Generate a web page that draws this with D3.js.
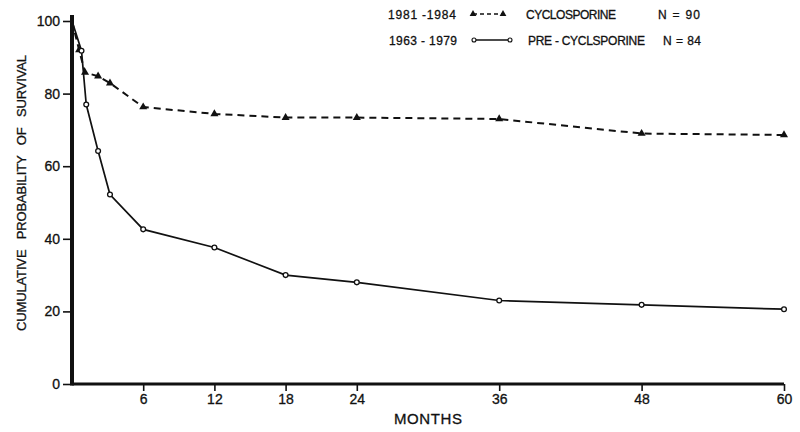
<!DOCTYPE html>
<html>
<head>
<meta charset="utf-8">
<script src="https://cdn.jsdelivr.net/npm/d3@7"></script>
<style>
  body { margin: 0; background: #fff; }
  text { font-family: "Liberation Sans", Arial, sans-serif; fill: #111; stroke: #111; stroke-width: 0.3px; }
</style>
</head>
<body>
<div id="chart"></div>
<script>
// survival data (months, % surviving)
const cycloMonths = [0, 0.6, 1.1, 2.2, 3.2, 6, 12, 18, 24, 36, 48, 60];
const cycloValues = [100, 92, 85.8, 84.8, 82.9, 76.3, 74.4, 73.4, 73.4, 73.0, 69.0, 68.6];
const preMonths = [0, 0.8, 1.2, 2.2, 3.2, 6, 12, 18, 24, 36, 48, 60];
const preValues = [100, 91.8, 77.0, 64.2, 52.2, 42.6, 37.6, 30.0, 28.0, 23.0, 21.8, 20.6];

const xTicks = [6, 12, 18, 24, 36, 48, 60];
const yTicks = [0, 20, 40, 60, 80, 100];

const width = 800;
const height = 432;
const margin = { top: 21, right: 16, bottom: 48, left: 72 };

const x = d3.scaleLinear().domain([0, 60])
    .range([margin.left, width - margin.right]);
const y = d3.scaleLinear().domain([0, 100])
    .range([height - margin.bottom, margin.top]);

const svg = d3.select("#chart").append("svg")
    .attr("width", width)
    .attr("height", height)
    .attr("viewBox", [0, 0, width, height]);

const cyclo = cycloMonths.map((m, i) => ({ m: m, v: cycloValues[i] }));
const pre = preMonths.map((m, i) => ({ m: m, v: preValues[i] }));

const line = d3.line().x(d => x(d.m)).y(d => y(d.v));

// axes
const xAxis = g => g
    .attr("transform", `translate(0,${y(0)})`)
    .call(d3.axisBottom(x).tickValues(xTicks).tickSize(7).tickPadding(3))
    .call(g => g.select(".domain").remove())
    .call(g => g.selectAll(".tick line").attr("stroke", "#111").attr("stroke-width", 1.6))
    .call(g => g.selectAll(".tick text").attr("font-size", 14).attr("fill", "#111"));

const yAxis = g => g
    .attr("transform", `translate(${x(0)},0)`)
    .call(d3.axisLeft(y).tickValues(yTicks).tickSize(9).tickPadding(3))
    .call(g => g.select(".domain").remove())
    .call(g => g.selectAll(".tick line").attr("stroke", "#111").attr("stroke-width", 1.6))
    .call(g => g.selectAll(".tick text").attr("font-size", 14).attr("fill", "#111"));

svg.append("g").call(xAxis);
svg.append("g").call(yAxis);

// heavy axis lines
svg.append("line")
    .attr("x1", x(0)).attr("x2", x(60))
    .attr("y1", y(0)).attr("y2", y(0))
    .attr("stroke", "#111").attr("stroke-width", 3.2);
svg.append("line")
    .attr("x1", x(0)).attr("x2", x(0))
    .attr("y1", y(0) + 1.5).attr("y2", y(100) - 6)
    .attr("stroke", "#111").attr("stroke-width", 4);

// curves
svg.append("path")
    .datum(cyclo)
    .attr("d", line)
    .attr("fill", "none")
    .attr("stroke", "#111")
    .attr("stroke-width", 2)
    .attr("stroke-dasharray", "7,5");

svg.append("path")
    .datum(pre)
    .attr("d", line)
    .attr("fill", "none")
    .attr("stroke", "#111")
    .attr("stroke-width", 1.7);

const tri = d3.symbol().type(d3.symbolTriangle).size(28);

svg.selectAll(".tri")
    .data(cyclo.slice(1))
    .join("path")
    .attr("class", "tri")
    .attr("transform", d => `translate(${x(d.m)},${y(d.v)})`)
    .attr("d", tri)
    .attr("fill", "#111");

svg.selectAll(".dot")
    .data(pre.slice(1))
    .join("circle")
    .attr("class", "dot")
    .attr("cx", d => x(d.m))
    .attr("cy", d => y(d.v))
    .attr("r", 2.4)
    .attr("fill", "#fff")
    .attr("stroke", "#111")
    .attr("stroke-width", 1.3);

// axis titles
svg.append("text")
    .attr("x", 428).attr("y", 424)
    .attr("text-anchor", "middle")
    .attr("font-size", 15)
    .attr("textLength", 68)
    .text("MONTHS");

svg.append("text")
    .attr("transform", "translate(26,193) rotate(-90)")
    .attr("text-anchor", "middle")
    .attr("font-size", 13)
    .attr("textLength", 276)
    .attr("lengthAdjust", "spacing")
    .attr("xml:space", "preserve")
    .text("CUMULATIVE   PROBABILITY   OF   SURVIVAL");

// legend
const legend = svg.append("g");

function legendText(txt, x0, x1, yy) {
    legend.append("text")
        .attr("x", x0).attr("y", yy)
        .attr("font-size", 12)
        .attr("textLength", x1 - x0)
        .attr("xml:space", "preserve")
        .text(txt);
}

legendText("1981 -1984", 388, 456, 19);
legendText("CYCLOSPORINE", 526, 616, 19);
legendText("N = 90", 658, 700, 19);
legendText("1963 - 1979", 389, 457, 45);
legendText("PRE - CYCLSPORINE", 528, 645, 45);
legendText("N = 84", 663, 701, 45);

legend.append("line")
    .attr("x1", 473).attr("x2", 503).attr("y1", 14).attr("y2", 14)
    .attr("stroke", "#111").attr("stroke-width", 1.6)
    .attr("stroke-dasharray", "4,3");
legend.selectAll(".ltri")
    .data([473, 503])
    .join("path")
    .attr("class", "ltri")
    .attr("transform", d => `translate(${d},14)`)
    .attr("d", d3.symbol().type(d3.symbolTriangle).size(20))
    .attr("fill", "#111");

legend.append("line")
    .attr("x1", 474).attr("x2", 510).attr("y1", 40).attr("y2", 40)
    .attr("stroke", "#111").attr("stroke-width", 1.3);
legend.selectAll(".ldot")
    .data([474, 510])
    .join("circle")
    .attr("class", "ldot")
    .attr("cx", d => d).attr("cy", 40).attr("r", 2)
    .attr("fill", "#fff").attr("stroke", "#111").attr("stroke-width", 1.1);
</script>
</body>
</html>
